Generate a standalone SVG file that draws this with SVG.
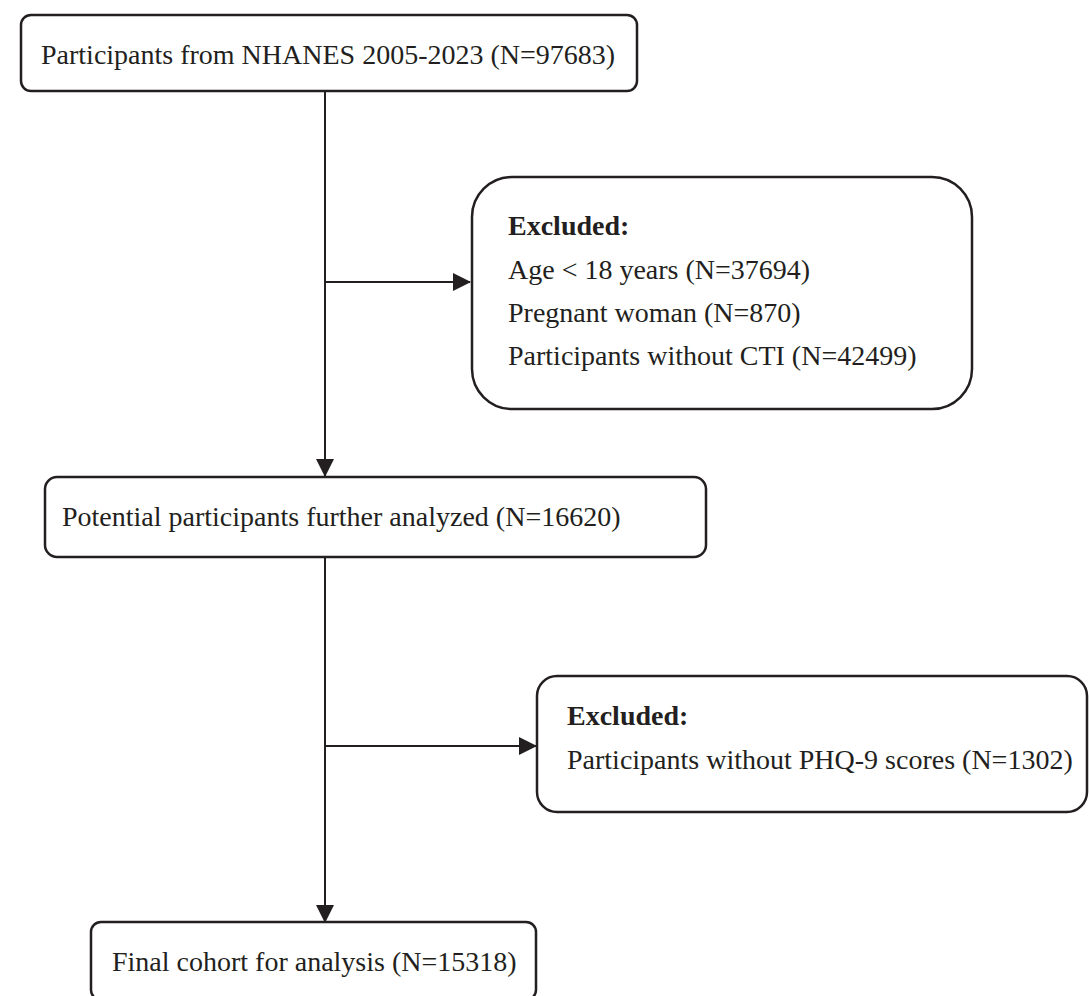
<svg xmlns="http://www.w3.org/2000/svg" width="1089" height="996" viewBox="0 0 1089 996">
  <defs>
    <style>
      .box { fill: #ffffff; stroke: #231f20; stroke-width: 2.5; }
      .txt { font-family: "Liberation Serif", "Times New Roman", serif; font-size: 28px; fill: #231f20; }
      .bold { font-weight: bold; }
      .conn { stroke: #231f20; stroke-width: 2; fill: none; }
      .head { fill: #231f20; stroke: none; }
    </style>
    <marker id="arrow" viewBox="0 0 18 18" refX="17" refY="9" markerWidth="18" markerHeight="18" markerUnits="userSpaceOnUse" orient="auto">
      <path class="head" d="M0,0 L18,9 L0,18 Z"/>
    </marker>
  </defs>
  <rect width="1089" height="996" fill="#ffffff"/>

  <g id="connectors">
    <line class="conn" x1="325" y1="91" x2="325" y2="476" marker-end="url(#arrow)"/>
    <line class="conn" x1="325" y1="282" x2="470" y2="282" marker-end="url(#arrow)"/>
    <line class="conn" x1="325" y1="557" x2="325" y2="922" marker-end="url(#arrow)"/>
    <line class="conn" x1="325" y1="746" x2="536" y2="746" marker-end="url(#arrow)"/>
  </g>

  <g id="node-start">
    <rect class="box" x="21" y="15" width="616" height="76" rx="10" ry="10"/>
    <text class="txt" x="41" y="64">Participants from NHANES 2005-2023 (N=97683)</text>
  </g>

  <g id="node-excluded-1">
    <rect class="box" x="472" y="177" width="500" height="232" rx="40" ry="40"/>
    <text class="txt bold" x="508" y="235">Excluded:</text>
    <text class="txt" x="508" y="279">Age &lt; 18 years (N=37694)</text>
    <text class="txt" x="508" y="322">Pregnant woman (N=870)</text>
    <text class="txt" x="508" y="365">Participants without CTI (N=42499)</text>
  </g>

  <g id="node-potential">
    <rect class="box" x="45" y="477" width="661" height="80" rx="12" ry="12"/>
    <text class="txt" x="62" y="526">Potential participants further analyzed (N=16620)</text>
  </g>

  <g id="node-excluded-2">
    <rect class="box" x="537" y="676" width="550" height="136" rx="20" ry="20"/>
    <text class="txt bold" x="567" y="725">Excluded:</text>
    <text class="txt" x="567" y="769">Participants without PHQ-9 scores (N=1302)</text>
  </g>

  <g id="node-final">
    <rect class="box" x="91" y="922" width="445" height="78" rx="10" ry="10"/>
    <text class="txt" x="112" y="971">Final cohort for analysis (N=15318)</text>
  </g>
</svg>
